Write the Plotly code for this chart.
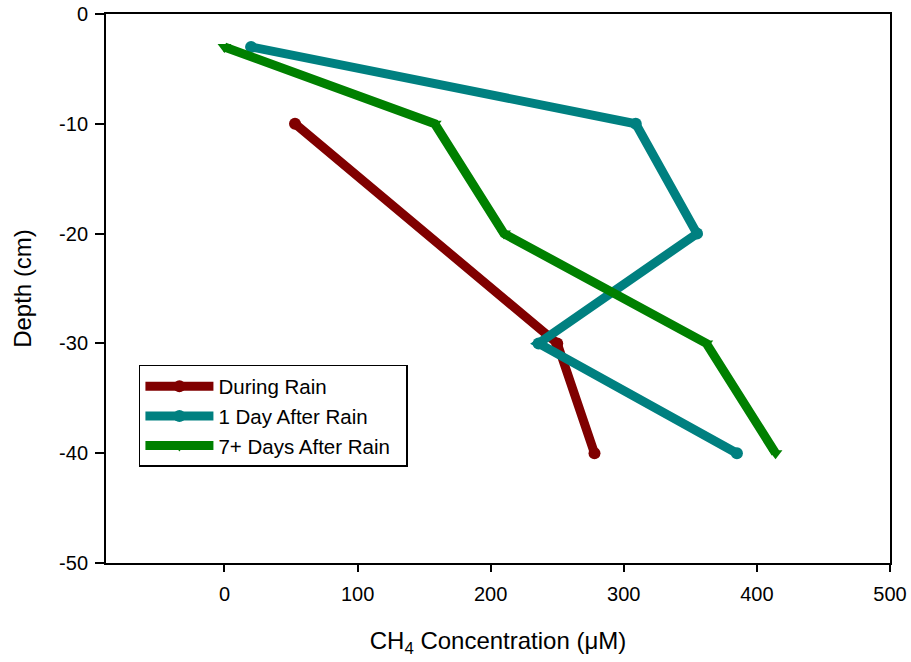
import plotly.graph_objects as go

# Depth profile of dissolved CH4 under three rain conditions
depth_during = [-10, -30, -40]
ch4_during = [53, 250, 278]

depth_1day = [-3, -10, -20, -30, -40]
ch4_1day = [20, 309, 355, 236, 385]

depth_7day = [-3, -10, -20, -30, -40]
ch4_7day = [0, 158, 210, 362, 414]

series_names = ["During Rain", "1 Day After Rain", "7+ Days After Rain\u00a0\u00a0"]
series_colors = ["#800000", "#008080", "#008000"]
series_symbols = ["circle", "circle", "triangle-down"]

x_ticks = [0, 100, 200, 300, 400, 500]
y_ticks = [0, -10, -20, -30, -40, -50]

fig = go.Figure()
for name, xs, ys, color, sym in zip(
    series_names,
    [ch4_during, ch4_1day, ch4_7day],
    [depth_during, depth_1day, depth_7day],
    series_colors,
    series_symbols,
):
    fig.add_trace(go.Scatter(
        x=xs, y=ys, name=name, mode="lines+markers",
        line=dict(color=color, width=9),
        marker=dict(color=color, symbol=sym, size=12),
    ))

font_family = "Liberation Sans, Arial, sans-serif"

fig.update_layout(
    width=911, height=662,
    margin=dict(l=106, r=21, t=14, b=99),
    paper_bgcolor="white", plot_bgcolor="white",
    font=dict(family=font_family, size=20, color="black"),
    showlegend=True,
    legend=dict(
        x=0.042, y=0.3607, xanchor="left", yanchor="top",
        bgcolor="white", bordercolor="black", borderwidth=1.5,
        font=dict(size=20.5), tracegroupgap=0,
        itemwidth=68,
    ),
    xaxis=dict(
        range=[-89, 500], tickvals=x_ticks, ticktext=[str(v) for v in x_ticks],
        showline=True, linecolor="black", linewidth=2, mirror=True,
        ticks="outside", ticklen=7, tickwidth=2, tickcolor="black",
        ticklabelstandoff=5,
        showgrid=False, zeroline=False, automargin=False,
        title=dict(text="CH<sub>4</sub> Concentration (\u03bcM)",
                   font=dict(size=24), standoff=28),
    ),
    yaxis=dict(
        range=[-50, 0], tickvals=y_ticks, ticktext=[str(v) for v in y_ticks],
        showline=True, linecolor="black", linewidth=2, mirror=True,
        ticks="outside", ticklen=9, tickwidth=2, tickcolor="black",
        ticklabelstandoff=3,
        showgrid=False, zeroline=False, automargin=False,
        title=dict(text="Depth (cm)", font=dict(size=24), standoff=21),
    ),
)

# top and bottom frame lines reach out to the y tick marks
for yp in (0, 1):
    fig.add_shape(type="line", xref="paper", yref="paper",
                  x0=-9 / 784, x1=0, y0=yp, y1=yp,
                  line=dict(color="black", width=2))

fig.write_html("out.html")
